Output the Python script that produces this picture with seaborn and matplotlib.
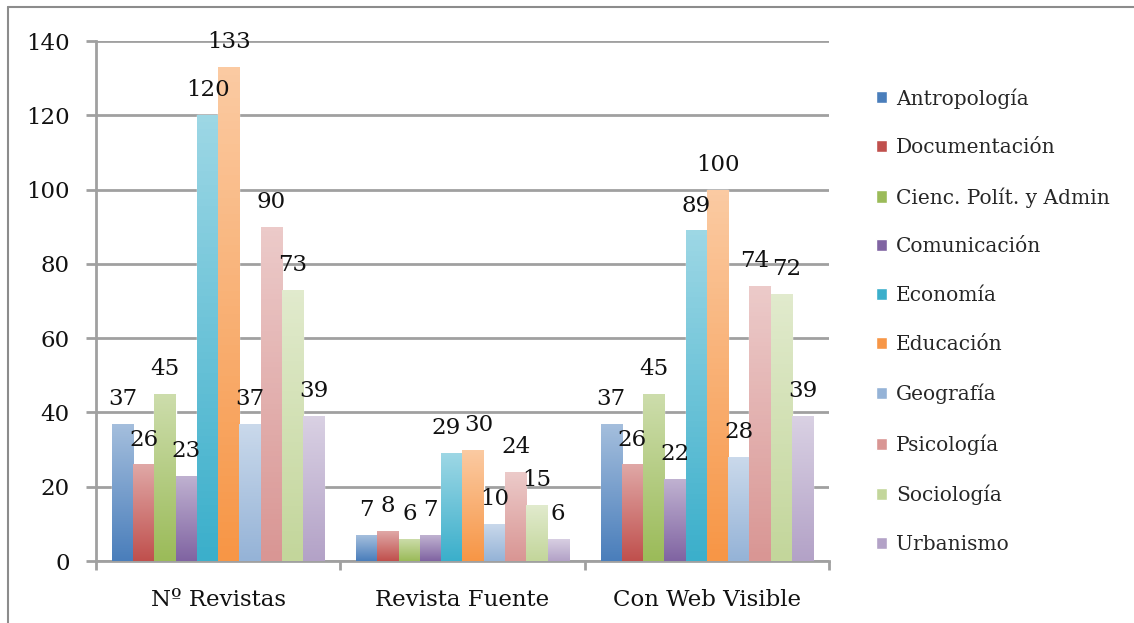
import numpy as np
import pandas as pd
import seaborn as sns
import matplotlib.pyplot as plt
import matplotlib.colors as mcolors
from matplotlib.lines import Line2D

categories = ["Nº Revistas", "Revista Fuente", "Con Web Visible"]
areas = ["Antropología", "Documentación", "Cienc. Polít. y Admin", "Comunicación",
         "Economía", "Educación", "Geografía", "Psicología", "Sociología", "Urbanismo"]
revistas = [37, 26, 45, 23, 120, 133, 37, 90, 73, 39]
fuente = [7, 8, 6, 7, 29, 30, 10, 24, 15, 6]
web = [37, 26, 45, 22, 89, 100, 28, 74, 72, 39]
colors = ["#4A7EBB", "#C0504D", "#9BBB59", "#8064A2", "#3BAFCB",
          "#F79646", "#95B3D7", "#D99694", "#C3D69B", "#B3A2C7"]

rows = []
for cat, vals in zip(categories, [revistas, fuente, web]):
    for a, v in zip(areas, vals):
        rows.append({"Categoria": cat, "Area": a, "Valor": v})
df = pd.DataFrame(rows)

sns.set_theme(style="white")
plt.rcParams["font.family"] = ["DejaVu Serif"]

gray = "#A0A0A0"
fig = plt.figure(figsize=(11.34, 6.23), dpi=100)
ax = fig.add_axes([96 / 1134, 1 - 561 / 623, 733 / 1134, 520 / 623])

sns.barplot(data=df, x="Categoria", y="Valor", hue="Area", palette=colors,
            saturation=1, width=0.87, ax=ax, legend=True, zorder=2)

# vertical gradient on every bar, light at top, full colour at bottom
labels_by_area = []
for cont, c in zip(ax.containers, colors):
    base = np.array(mcolors.to_rgb(c))
    top = base + (1 - base) * 0.5
    grad = np.linspace(0, 1, 64)[:, None]
    img = top[None, None, :] * (1 - grad[..., None]) + base[None, None, :] * grad[..., None]
    for p in cont.patches:
        x0, y0 = p.get_x(), p.get_y()
        w, h = p.get_width(), p.get_height()
        im = ax.imshow(img, extent=[x0, x0 + w, y0, y0 + h], origin="upper",
                       aspect="auto", zorder=3)
        im.set_clip_path(p)
    labels_by_area.append(ax.bar_label(cont, padding=10, fontsize=16.5,
                                       color="#111111", zorder=4))

# nudge neighbouring labels that would collide
pad = 10
for area_i, cat_i, dx in [(4, 1, -4), (5, 1, 4), (7, 2, -4), (8, 2, 4)]:
    labels_by_area[area_i][cat_i].xyann = (dx, pad)

ax.set_xlim(-0.5, 2.5)
ax.set_ylim(0, 140)
ax.set_yticks(range(0, 141, 20))
ax.yaxis.grid(True, color=gray, linewidth=2, zorder=0)
ax.set_axisbelow(True)
for s in ["top", "right"]:
    ax.spines[s].set_visible(False)
for s in ["bottom", "left"]:
    ax.spines[s].set_color(gray)
    ax.spines[s].set_linewidth(2)
ax.set_xlabel("")
ax.set_ylabel("")
ax.tick_params(axis="y", length=7, width=2, color=gray, direction="out",
               left=True, labelsize=16.5, pad=12, labelcolor="#111111")
ax.tick_params(axis="x", length=0, labelsize=16.5, pad=20, labelcolor="#111111")

# category separator ticks below the axis
for xb in [-0.5, 0.5, 1.5, 2.5]:
    ax.plot([xb, xb], [0, -2.3], color=gray, lw=2, clip_on=False,
            solid_capstyle="butt")

handles, labels = ax.get_legend_handles_labels()
ax.get_legend().remove()
fig.legend(handles, labels, loc="upper left", bbox_to_anchor=(868 / 1134, 1 - 80 / 623),
           frameon=False, fontsize=14.5, labelspacing=1.48, handlelength=0.55,
           handleheight=0.55, handletextpad=0.45, borderaxespad=0)

# outer chart border
fig.add_artist(Line2D([8 / 1134, 8 / 1134], [0, 1 - 7 / 623], color="#8C8C8C", lw=1.5))
fig.add_artist(Line2D([8 / 1134, 1], [1 - 7 / 623, 1 - 7 / 623], color="#8C8C8C", lw=1.5))

fig.savefig("out.png", dpi=100)
